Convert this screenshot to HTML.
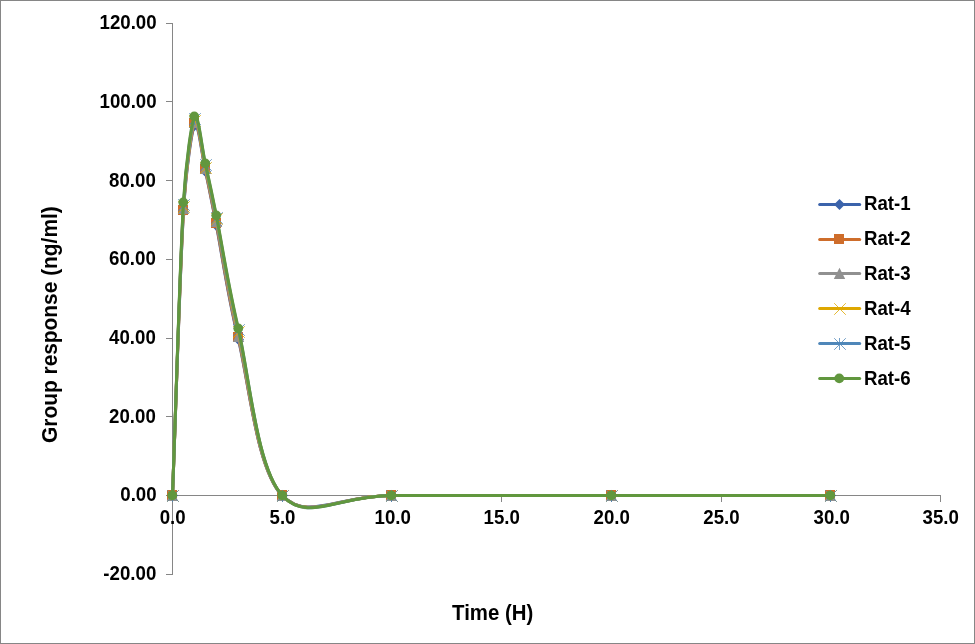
<!DOCTYPE html>
<html lang="en"><head><meta charset="utf-8"><title>Group response vs Time</title>
<style>html,body{margin:0;padding:0;background:#fff}body{width:975px;height:644px;overflow:hidden}svg{display:block}text{font-family:"Liberation Sans",sans-serif;font-weight:bold;fill:#000}.t{font-size:18.67px}</style></head><body>
<svg role="img" aria-label="Group response (ng/ml) versus Time (H) for Rat-1 to Rat-6" width="975" height="644" viewBox="0 0 975 644">
<rect x="0" y="0" width="975" height="644" fill="#fff"/>
<rect x="0.5" y="0.5" width="974" height="643" fill="none" stroke="#868686" stroke-width="1"/>
<g stroke="#868686" stroke-width="1" fill="none" shape-rendering="crispEdges">
<path d="M172.5 23V575"/>
<path d="M172.5 495.5H941"/>
<path d="M166 23.5H173"/>
<path d="M166 101.5H173"/>
<path d="M166 180.5H173"/>
<path d="M166 259.5H173"/>
<path d="M166 338.5H173"/>
<path d="M166 416.5H173"/>
<path d="M166 495.5H173"/>
<path d="M166 574.5H173"/>
<path d="M172.5 495V502"/>
<path d="M282.5 495V502"/>
<path d="M391.5 495V502"/>
<path d="M501.5 495V502"/>
<path d="M611.5 495V502"/>
<path d="M721.5 495V502"/>
<path d="M830.5 495V502"/>
<path d="M940.5 495V502"/>
</g>
<g class="t" text-anchor="end">
<text  transform="translate(156.60 28.70) scale(1 1.070)">120.00</text>
<text  transform="translate(156.60 107.70) scale(1 1.070)">100.00</text>
<text  transform="translate(155.80 186.70) scale(1 1.070)">80.00</text>
<text  transform="translate(155.80 264.70) scale(1 1.070)">60.00</text>
<text  transform="translate(155.80 343.70) scale(1 1.070)">40.00</text>
<text  transform="translate(155.80 422.70) scale(1 1.070)">20.00</text>
<text  transform="translate(156.60 500.70) scale(1 1.070)">0.00</text>
<text  transform="translate(156.30 579.70) scale(1 1.070)">-20.00</text>
</g>
<g class="t" text-anchor="middle">
<text  transform="translate(172.70 523.70) scale(1 1.070)">0.0</text>
<text  transform="translate(282.50 523.70) scale(1 1.070)">5.0</text>
<text  transform="translate(392.70 523.70) scale(1 1.070)">10.0</text>
<text  transform="translate(501.70 523.70) scale(1 1.070)">15.0</text>
<text  transform="translate(611.70 523.70) scale(1 1.070)">20.0</text>
<text  transform="translate(721.50 523.70) scale(1 1.070)">25.0</text>
<text  transform="translate(831.70 523.70) scale(1 1.070)">30.0</text>
<text  transform="translate(940.70 523.70) scale(1 1.070)">35.0</text>
</g>
<text text-anchor="middle" style="font-size:20.4px" transform="translate(492.7 619.9) scale(1 1.07)">Time (H)</text>
<text text-anchor="middle" style="font-size:20.9px" transform="translate(57.1 324.6) rotate(-90) scale(1 1.05)">Group response (ng/ml)</text>
<g>
<path d="M172.50 495.50 C176.16 400.92 179.81 273.37 183.47 211.75 C186.04 168.48 191.88 130.53 194.44 125.76 C198.10 118.97 201.76 154.39 205.41 171.02 C208.98 187.21 211.04 198.24 216.39 225.52 C221.87 253.53 227.36 294.07 238.33 339.06 C249.30 384.06 256.61 469.43 282.21 495.50 C307.81 521.57 337.07 495.50 391.93 495.50 C446.79 495.50 538.21 495.50 611.36 495.50 C684.50 495.50 757.64 495.50 830.79 495.50" fill="none" stroke="#3B63AB" stroke-width="3" stroke-linecap="round" stroke-linejoin="round"/>
<path d="M172.50 490.00L178.00 495.50L172.50 501.00L167.00 495.50Z" fill="#3B63AB"/>
<path d="M183.50 206.00L189.00 211.50L183.50 217.00L178.00 211.50Z" fill="#3B63AB"/>
<path d="M194.50 120.00L200.00 125.50L194.50 131.00L189.00 125.50Z" fill="#3B63AB"/>
<path d="M205.50 166.00L211.00 171.50L205.50 177.00L200.00 171.50Z" fill="#3B63AB"/>
<path d="M216.50 220.00L222.00 225.50L216.50 231.00L211.00 225.50Z" fill="#3B63AB"/>
<path d="M238.50 334.00L244.00 339.50L238.50 345.00L233.00 339.50Z" fill="#3B63AB"/>
<path d="M282.50 490.00L288.00 495.50L282.50 501.00L277.00 495.50Z" fill="#3B63AB"/>
<path d="M391.50 490.00L397.00 495.50L391.50 501.00L386.00 495.50Z" fill="#3B63AB"/>
<path d="M611.50 490.00L617.00 495.50L611.50 501.00L606.00 495.50Z" fill="#3B63AB"/>
<path d="M830.50 490.00L836.00 495.50L830.50 501.00L825.00 495.50Z" fill="#3B63AB"/>
</g>
<g>
<path d="M172.50 495.50 C176.16 400.52 179.81 272.52 183.47 210.57 C186.05 166.91 191.87 128.58 194.44 123.79 C198.10 117.00 201.76 153.14 205.41 169.84 C208.95 185.98 211.08 196.86 216.39 223.95 C221.87 251.96 227.36 292.62 238.33 337.88 C249.30 383.14 256.61 469.23 282.21 495.50 C307.81 521.77 337.07 495.50 391.93 495.50 C446.79 495.50 538.21 495.50 611.36 495.50 C684.50 495.50 757.64 495.50 830.79 495.50" fill="none" stroke="#CE6D2B" stroke-width="3" stroke-linecap="round" stroke-linejoin="round"/>
<rect x="167.00" y="490.00" width="10" height="10" fill="#CE6D2B"/>
<rect x="178.00" y="205.00" width="10" height="10" fill="#CE6D2B"/>
<rect x="189.00" y="118.00" width="10" height="10" fill="#CE6D2B"/>
<rect x="200.00" y="164.00" width="10" height="10" fill="#CE6D2B"/>
<rect x="211.00" y="218.00" width="10" height="10" fill="#CE6D2B"/>
<rect x="233.00" y="332.00" width="10" height="10" fill="#CE6D2B"/>
<rect x="277.00" y="490.00" width="10" height="10" fill="#CE6D2B"/>
<rect x="386.00" y="490.00" width="10" height="10" fill="#CE6D2B"/>
<rect x="606.00" y="490.00" width="10" height="10" fill="#CE6D2B"/>
<rect x="825.00" y="490.00" width="10" height="10" fill="#CE6D2B"/>
</g>
<g>
<path d="M172.50 495.50 C176.16 399.87 179.81 270.75 183.47 208.60 C186.02 165.33 191.90 127.25 194.44 122.61 C198.10 115.95 201.76 152.16 205.41 168.66 C208.89 184.33 211.17 195.07 216.39 221.59 C221.87 249.50 227.36 290.46 238.33 336.11 C249.30 381.76 256.61 468.94 282.21 495.50 C307.81 522.06 337.07 495.50 391.93 495.50 C446.79 495.50 538.21 495.50 611.36 495.50 C684.50 495.50 757.64 495.50 830.79 495.50" fill="none" stroke="#909090" stroke-width="3" stroke-linecap="round" stroke-linejoin="round"/>
<path d="M172.50 489.80L178.20 501.00L166.80 501.00Z" fill="#909090"/>
<path d="M183.50 202.80L189.20 214.00L177.80 214.00Z" fill="#909090"/>
<path d="M194.50 116.80L200.20 128.00L188.80 128.00Z" fill="#909090"/>
<path d="M205.50 162.80L211.20 174.00L199.80 174.00Z" fill="#909090"/>
<path d="M216.50 215.80L222.20 227.00L210.80 227.00Z" fill="#909090"/>
<path d="M238.50 330.80L244.20 342.00L232.80 342.00Z" fill="#909090"/>
<path d="M282.50 489.80L288.20 501.00L276.80 501.00Z" fill="#909090"/>
<path d="M391.50 489.80L397.20 501.00L385.80 501.00Z" fill="#909090"/>
<path d="M611.50 489.80L617.20 501.00L605.80 501.00Z" fill="#909090"/>
<path d="M830.50 489.80L836.20 501.00L824.80 501.00Z" fill="#909090"/>
</g>
<g>
<path d="M172.50 495.50 C176.16 399.21 179.81 269.11 183.47 206.63 C186.00 163.36 191.91 125.21 194.44 120.64 C198.10 114.05 201.76 150.82 205.41 167.08 C208.83 182.29 211.26 192.59 216.39 218.24 C221.87 245.69 227.36 285.57 238.33 331.78 C249.30 377.99 256.61 468.21 282.21 495.50 C307.81 522.79 337.07 495.50 391.93 495.50 C446.79 495.50 538.21 495.50 611.36 495.50 C684.50 495.50 757.64 495.50 830.79 495.50" fill="none" stroke="#DEA700" stroke-width="3" stroke-linecap="round" stroke-linejoin="round"/>
<path d="M167.20 490.20l11.6 11.6M178.80 490.20l-11.6 11.6" stroke="#DEA700" stroke-width="0.8" fill="none"/>
<path d="M178.20 201.20l11.6 11.6M189.80 201.20l-11.6 11.6" stroke="#DEA700" stroke-width="0.8" fill="none"/>
<path d="M189.20 115.20l11.6 11.6M200.80 115.20l-11.6 11.6" stroke="#DEA700" stroke-width="0.8" fill="none"/>
<path d="M200.20 162.20l11.6 11.6M211.80 162.20l-11.6 11.6" stroke="#DEA700" stroke-width="0.8" fill="none"/>
<path d="M211.20 213.20l11.6 11.6M222.80 213.20l-11.6 11.6" stroke="#DEA700" stroke-width="0.8" fill="none"/>
<path d="M233.20 326.20l11.6 11.6M244.80 326.20l-11.6 11.6" stroke="#DEA700" stroke-width="0.8" fill="none"/>
<path d="M277.20 490.20l11.6 11.6M288.80 490.20l-11.6 11.6" stroke="#DEA700" stroke-width="0.8" fill="none"/>
<path d="M386.20 490.20l11.6 11.6M397.80 490.20l-11.6 11.6" stroke="#DEA700" stroke-width="0.8" fill="none"/>
<path d="M606.20 490.20l11.6 11.6M617.80 490.20l-11.6 11.6" stroke="#DEA700" stroke-width="0.8" fill="none"/>
<path d="M825.20 490.20l11.6 11.6M836.80 490.20l-11.6 11.6" stroke="#DEA700" stroke-width="0.8" fill="none"/>
</g>
<g>
<path d="M172.50 495.50 C176.16 398.56 179.81 267.47 183.47 204.67 C185.99 161.40 191.92 123.24 194.44 118.68 C198.10 112.05 201.76 148.49 205.41 164.92 C208.91 180.61 211.15 191.04 216.39 217.26 C221.87 244.71 227.36 283.25 238.33 329.62 C249.30 375.99 256.61 467.85 282.21 495.50 C307.81 523.15 337.07 495.50 391.93 495.50 C446.79 495.50 538.21 495.50 611.36 495.50 C684.50 495.50 757.64 495.50 830.79 495.50" fill="none" stroke="#4F87B9" stroke-width="3" stroke-linecap="round" stroke-linejoin="round"/>
<path d="M167.20 490.20l11.6 11.6M178.80 490.20l-11.6 11.6M172.50 490.00v12" stroke="#4F87B9" stroke-width="0.8" fill="none"/>
<path d="M178.20 199.20l11.6 11.6M189.80 199.20l-11.6 11.6M183.50 199.00v12" stroke="#4F87B9" stroke-width="0.8" fill="none"/>
<path d="M189.20 113.20l11.6 11.6M200.80 113.20l-11.6 11.6M194.50 113.00v12" stroke="#4F87B9" stroke-width="0.8" fill="none"/>
<path d="M200.20 159.20l11.6 11.6M211.80 159.20l-11.6 11.6M205.50 159.00v12" stroke="#4F87B9" stroke-width="0.8" fill="none"/>
<path d="M211.20 212.20l11.6 11.6M222.80 212.20l-11.6 11.6M216.50 212.00v12" stroke="#4F87B9" stroke-width="0.8" fill="none"/>
<path d="M233.20 324.20l11.6 11.6M244.80 324.20l-11.6 11.6M238.50 324.00v12" stroke="#4F87B9" stroke-width="0.8" fill="none"/>
<path d="M277.20 490.20l11.6 11.6M288.80 490.20l-11.6 11.6M282.50 490.00v12" stroke="#4F87B9" stroke-width="0.8" fill="none"/>
<path d="M386.20 490.20l11.6 11.6M397.80 490.20l-11.6 11.6M391.50 490.00v12" stroke="#4F87B9" stroke-width="0.8" fill="none"/>
<path d="M606.20 490.20l11.6 11.6M617.80 490.20l-11.6 11.6M611.50 490.00v12" stroke="#4F87B9" stroke-width="0.8" fill="none"/>
<path d="M825.20 490.20l11.6 11.6M836.80 490.20l-11.6 11.6M830.50 490.00v12" stroke="#4F87B9" stroke-width="0.8" fill="none"/>
</g>
<g>
<path d="M172.50 495.50 C176.16 397.70 179.81 265.24 183.47 202.11 C185.96 159.13 191.95 121.06 194.44 116.71 C198.10 110.31 201.76 147.27 205.41 163.74 C208.87 179.31 211.20 189.55 216.39 215.49 C221.87 242.91 227.36 281.57 238.33 328.24 C249.30 374.91 256.61 467.62 282.21 495.50 C307.81 523.38 337.07 495.50 391.93 495.50 C446.79 495.50 538.21 495.50 611.36 495.50 C684.50 495.50 757.64 495.50 830.79 495.50" fill="none" stroke="#61973E" stroke-width="3" stroke-linecap="round" stroke-linejoin="round"/>
<circle cx="172.25" cy="495.35" r="4.9" fill="#61973E"/>
<circle cx="183.25" cy="202.35" r="4.9" fill="#61973E"/>
<circle cx="194.25" cy="116.35" r="4.9" fill="#61973E"/>
<circle cx="205.25" cy="163.35" r="4.9" fill="#61973E"/>
<circle cx="216.25" cy="215.35" r="4.9" fill="#61973E"/>
<circle cx="238.25" cy="328.35" r="4.9" fill="#61973E"/>
<circle cx="282.25" cy="495.35" r="4.9" fill="#61973E"/>
<circle cx="391.25" cy="495.35" r="4.9" fill="#61973E"/>
<circle cx="611.25" cy="495.35" r="4.9" fill="#61973E"/>
<circle cx="830.25" cy="495.35" r="4.9" fill="#61973E"/>
</g>
<path d="M819.7 204.50H859.7" stroke="#3B63AB" stroke-width="3" stroke-linecap="round" fill="none"/>
<path d="M839.50 199.00L845.00 204.50L839.50 210.00L834.00 204.50Z" fill="#3B63AB"/>
<text class="t" transform="translate(864.00 209.80) scale(1 1.070)">Rat-1</text>
<path d="M819.7 239.50H859.7" stroke="#CE6D2B" stroke-width="3" stroke-linecap="round" fill="none"/>
<rect x="834.00" y="234.00" width="10" height="10" fill="#CE6D2B"/>
<text class="t" transform="translate(864.00 244.80) scale(1 1.070)">Rat-2</text>
<path d="M819.7 273.50H859.7" stroke="#909090" stroke-width="3" stroke-linecap="round" fill="none"/>
<path d="M839.50 267.80L845.20 279.00L833.80 279.00Z" fill="#909090"/>
<text class="t" transform="translate(864.00 279.80) scale(1 1.070)">Rat-3</text>
<path d="M819.7 308.50H859.7" stroke="#DEA700" stroke-width="3" stroke-linecap="round" fill="none"/>
<path d="M834.20 303.20l11.6 11.6M845.80 303.20l-11.6 11.6" stroke="#DEA700" stroke-width="0.8" fill="none"/>
<text class="t" transform="translate(864.00 314.80) scale(1 1.070)">Rat-4</text>
<path d="M819.7 343.50H859.7" stroke="#4F87B9" stroke-width="3" stroke-linecap="round" fill="none"/>
<path d="M834.20 338.20l11.6 11.6M845.80 338.20l-11.6 11.6M839.50 338.00v12" stroke="#4F87B9" stroke-width="0.8" fill="none"/>
<text class="t" transform="translate(864.00 349.80) scale(1 1.070)">Rat-5</text>
<path d="M819.7 378.50H859.7" stroke="#61973E" stroke-width="3" stroke-linecap="round" fill="none"/>
<circle cx="839.25" cy="378.35" r="4.9" fill="#61973E"/>
<text class="t" transform="translate(864.00 384.80) scale(1 1.070)">Rat-6</text>
</svg></body></html>
